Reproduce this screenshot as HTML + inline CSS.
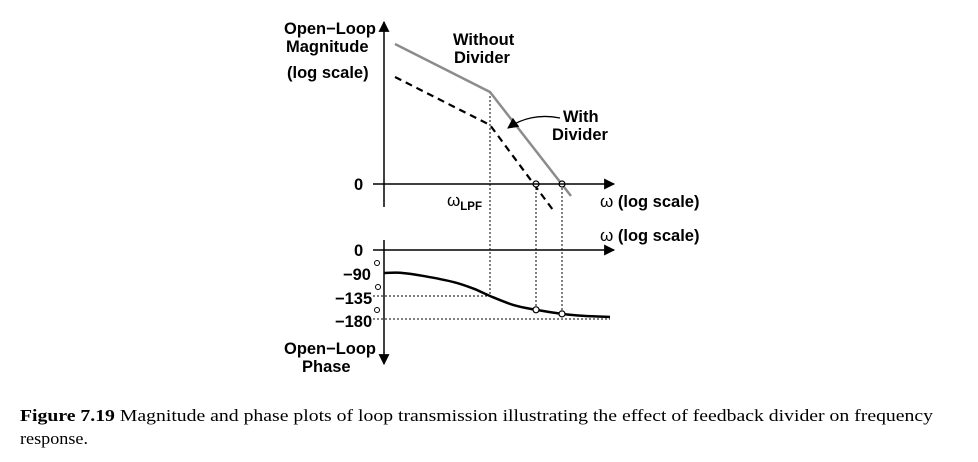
<!DOCTYPE html>
<html><head><meta charset="utf-8"><style>
html,body{margin:0;padding:0;background:#fff;}
svg{display:block;}
.lb{font-family:"Liberation Sans",sans-serif;font-weight:bold;font-size:16.5px;fill:#000;}
.cap{font-family:"Liberation Serif",serif;font-size:17px;fill:#000;}
</style></head><body>
<svg id="chart" width="978" height="462" viewBox="0 0 978 462">
<defs>
<marker id="ah" viewBox="0 0 10 10" refX="9" refY="5" markerWidth="14" markerHeight="11" markerUnits="userSpaceOnUse" orient="auto"><path d="M0,0 L10,5 L0,10 z" fill="#000"/></marker>
</defs>
<g id="g"></g>
<line x1="384" y1="207" x2="384" y2="22" stroke="#000" stroke-width="1.5" marker-end="url(#ah)"/>
<line x1="373" y1="184" x2="614" y2="184" stroke="#000" stroke-width="1.5" marker-end="url(#ah)"/>
<line x1="384" y1="240" x2="384" y2="364" stroke="#000" stroke-width="1.5" marker-end="url(#ah)"/>
<line x1="373" y1="250" x2="614" y2="250" stroke="#000" stroke-width="1.5" marker-end="url(#ah)"/>
<text class="lb" x="284" y="34" textLength="92" lengthAdjust="spacingAndGlyphs">Open−Loop</text>
<text class="lb" x="286" y="52">Magnitude</text>
<text class="lb" x="287" y="78">(log scale)</text>
<text class="lb" x="453" y="45">Without</text>
<text class="lb" x="454" y="63">Divider</text>
<text class="lb" x="563" y="122">With</text>
<text class="lb" x="552" y="140">Divider</text>
<path d="M560,118 C540,114 522,118 508,128" fill="none" stroke="#000" stroke-width="1.3" marker-end="url(#ah)"/>
<text class="lb" x="354" y="190">0</text>
<text class="lb" x="447" y="206" style="font-weight:normal;font-size:17px">ω<tspan font-size="11.5" font-weight="bold" dy="4">LPF</tspan></text>
<text class="lb" x="600" y="207"><tspan font-weight="normal" font-size="17">ω</tspan> (log scale)</text>
<text class="lb" x="600" y="241"><tspan font-weight="normal" font-size="17">ω</tspan> (log scale)</text>
<text class="lb" x="354" y="256">0</text>
<text class="lb" x="343" y="280">−90</text>
<text class="lb" x="335" y="304">−135</text>
<text class="lb" x="335" y="327">−180</text>
<circle cx="377" cy="263" r="2.5" fill="#fff" stroke="#000"/>
<circle cx="378" cy="287" r="2.5" fill="#fff" stroke="#000"/>
<circle cx="377" cy="310" r="2.5" fill="#fff" stroke="#000"/>
<text class="lb" x="284" y="354" textLength="92" lengthAdjust="spacingAndGlyphs">Open−Loop</text>
<text class="lb" x="302" y="372">Phase</text>
<text class="cap" x="20" y="421" textLength="913" lengthAdjust="spacingAndGlyphs"><tspan font-weight="bold">Figure 7.19</tspan>   Magnitude and phase plots of loop transmission illustrating the effect of feedback divider on frequency</text>
<text class="cap" x="20" y="444" textLength="68" lengthAdjust="spacingAndGlyphs">response.</text>
</svg>
<script>
const magFreq = [0.55, 5.3, 9.35];
const withoutDivider = [70, 46, -6];
const withDividerFreq = [0.55, 5.3, 8.45];
const withDivider = [53.5, 29.5, -13];
const phaseFreq = [0, 0.8, 2, 3.5, 4.5, 5.3, 6.5, 7.6, 8.9, 10, 11.3];
const phaseDeg = [-90, -89.5, -96, -108, -121, -135, -153, -162, -170, -174, -176];
const lpfFreq = 5.3;
const crossFreqs = [7.6, 8.9];
const crossPhase = [-162, -170];

const x = u => 384 + u * 20;
const yM = m => 184 - m * 2;
const yP = p => 273 + (-p - 90) * 0.511;
const g = document.getElementById('g');
const NS = 'http://www.w3.org/2000/svg';
function mk(tag, attrs) { const e = document.createElementNS(NS, tag); for (const k in attrs) e.setAttribute(k, attrs[k]); g.appendChild(e); return e; }

let e;
e = mk('line', {x1: x(lpfFreq), y1: yM(withoutDivider[1]), x2: x(lpfFreq), y2: yP(-135), stroke: '#000', 'stroke-width': 1, 'stroke-dasharray': '2,2'});


e = mk('line', {x1: 373, y1: yP(-135), x2: x(lpfFreq), y2: yP(-135), stroke: '#000', 'stroke-width': 1, 'stroke-dasharray': '2,2'});


e = mk('line', {x1: 373, y1: yP(-180), x2: x(11.3), y2: yP(-180), stroke: '#000', 'stroke-width': 1, 'stroke-dasharray': '2,2'});


crossFreqs.forEach((f, i) => {
  const l = mk('line', {x1: x(f), y1: yM(0), x2: x(f), y2: yP(crossPhase[i]), stroke: '#000', 'stroke-width': 1, 'stroke-dasharray': '2,2'});
  
  
});

e = mk('polyline', {points: magFreq.map((f, i) => x(f) + ',' + yM(withoutDivider[i])).join(' '), fill: 'none', stroke: '#8c8c8c', 'stroke-width': 2.5});


e = mk('polyline', {points: withDividerFreq.map((f, i) => x(f) + ',' + yM(withDivider[i])).join(' '), fill: 'none', stroke: '#000', 'stroke-width': 2.2, 'stroke-dasharray': '7,5'});



const pts = phaseFreq.map((f, i) => [x(f), yP(phaseDeg[i])]);
let d = 'M' + pts[0][0] + ',' + pts[0][1];
for (let i = 0; i < pts.length - 1; i++) {
  const p0 = pts[Math.max(0, i - 1)], p1 = pts[i], p2 = pts[i + 1], p3 = pts[Math.min(pts.length - 1, i + 2)];
  const c1 = [p1[0] + (p2[0] - p0[0]) / 6, p1[1] + (p2[1] - p0[1]) / 6];
  const c2 = [p2[0] - (p3[0] - p1[0]) / 6, p2[1] - (p3[1] - p1[1]) / 6];
  d += ' C' + c1.join(',') + ' ' + c2.join(',') + ' ' + p2.join(',');
}
e = mk('path', {d: d, fill: 'none', stroke: '#000', 'stroke-width': 2.5});



crossFreqs.forEach((f, i) => {
  const c = mk('circle', {cx: x(f), cy: yM(0), r: 3, fill: '#fff', stroke: '#000', 'stroke-width': 1.2});
  
  
  const c2 = mk('circle', {cx: x(f), cy: yP(crossPhase[i]), r: 3, fill: '#fff', stroke: '#000', 'stroke-width': 1.2});
  
  
});
</script>
</body></html>
